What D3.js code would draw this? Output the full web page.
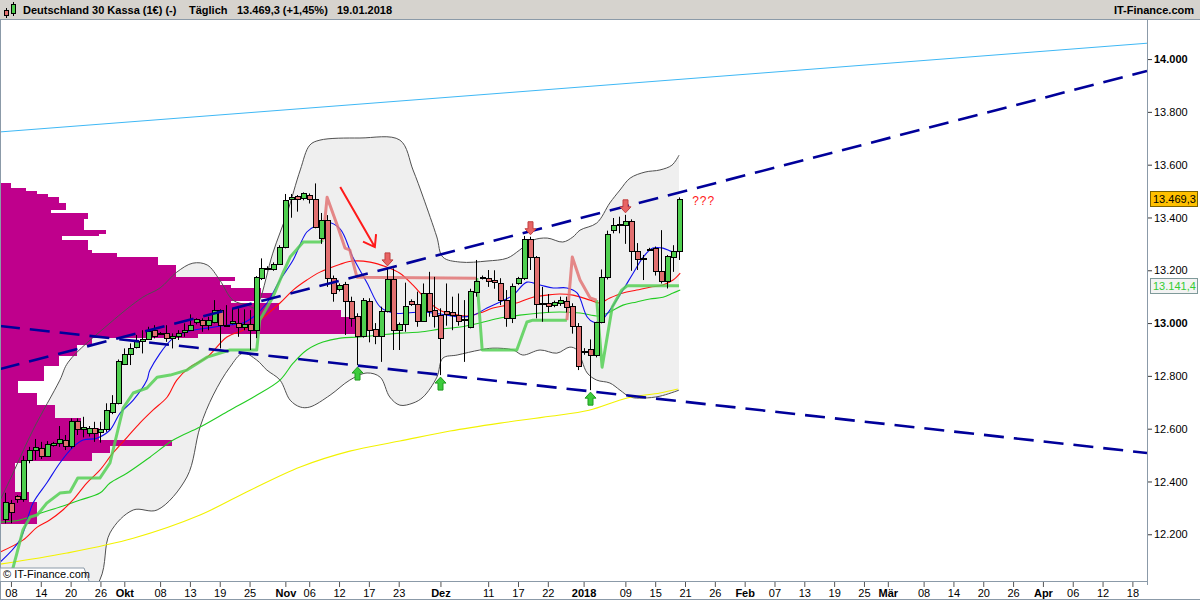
<!DOCTYPE html>
<html><head><meta charset="utf-8">
<script src="https://cdn.jsdelivr.net/npm/d3@7"></script>
<style>
html,body{margin:0;padding:0;background:#fff;}
svg{display:block;font-family:"Liberation Sans",Arial,sans-serif;}
</style></head><body>
<svg id="c" width="1200" height="600"></svg>
<script>
// ---------------- DATA ----------------
const opens = [12256,12317,12342,12333,12478,12519,12525,12496,12537,12544,
12557,12531,12626,12595,12580,12601,12586,12595,12660,12696,
12844,12881,12906,12929,12938,12971,12962,12961,12942,12948,
12963,12973,13004,13011,12991,13003,13049,12991,12999,12997,
12984,12995,12973,13169,13207,13203,13222,13285,13469,13478,
13470,13484,13469,13320,13390,13169,13128,13147,13083,13024,
12948,13083,12976,12948,13045,13165,12970,12995,13081,13071,
13005,13112,13049,13030,13045,13040,13030,13012,12982,13115,
13173,13169,13163,13150,13087,13018,13150,13169,13317,13249,
13073,13075,13068,13075,13081,13062,12986,12890,12900,12876,
13001,13173,13350,13372,13370,13386,13273,13246,13280,13283,
13197,13156,13249,13273];
const highs = [12357,12330,12348,12497,12531,12561,12550,12553,12550,12610,
12576,12639,12639,12645,12610,12626,12626,12696,12727,12862,
12904,12923,12955,12973,12986,12992,12966,12992,12961,12973,
12999,13033,13018,13018,13024,13087,13052,13068,13056,13056,
13052,13049,13178,13245,13215,13230,13295,13489,13489,13485,
13495,13491,13529,13417,13409,13180,13150,13156,13100,13037,
13095,13094,13000,13062,13209,13207,13002,13153,13090,13119,
13150,13194,13175,13056,13150,13100,13112,13087,13130,13239,
13180,13201,13200,13170,13125,13150,13175,13330,13327,13254,
13137,13110,13085,13100,13100,13075,13000,12905,12938,13005,
13203,13350,13398,13403,13410,13393,13303,13258,13285,13290,
13352,13258,13295,13476];
const lows = [12241,12242,12319,12323,12469,12481,12485,12494,12532,12531,
12519,12525,12576,12567,12570,12550,12547,12588,12655,12692,
12841,12841,12904,12885,12936,12942,12955,12929,12904,12936,
12948,12971,12995,12967,12973,12999,12904,12986,12995,12948,
12973,12898,12943,13163,13200,13198,13220,13283,13399,13422,
13465,13453,13359,13300,13137,13081,13120,12955,12986,12841,
12945,12927,12920,12853,13040,12898,12898,12967,13065,12986,
13005,13024,12983,12803,12990,12973,12990,12853,12980,13100,
13165,13137,13130,13068,12986,13000,13145,13163,13201,13018,
13005,13040,13060,13065,13040,12960,12822,12880,12746,12870,
12999,13165,13340,13340,13300,13198,13201,13163,13275,13180,
13150,13131,13194,13239];
const closes = [12321,12283,12332,12478,12516,12529,12494,12540,12544,12559,
12531,12626,12595,12605,12601,12583,12595,12667,12696,12856,
12881,12904,12929,12938,12967,12951,12960,12942,12951,12961,
12973,12992,13014,12990,13008,13047,12990,12989,13005,12984,
12996,12973,13173,13207,13205,13222,13285,13463,13476,13469,
13489,13469,13361,13390,13169,13112,13144,13083,13018,12948,
13087,12970,12948,13045,13165,12973,12995,13062,13071,13005,
13112,13043,13024,12942,13033,13027,13005,13010,13121,13159,
13171,13159,13153,13084,13018,13137,13169,13317,13249,13071,
13072,13064,13077,13084,13059,12986,12834,12894,12877,13001,
13173,13337,13371,13370,13386,13273,13241,13244,13279,13194,
13156,13252,13270,13469.3];

// Bollinger bands [barIndex, price]
const bandUpper = [[-0.8,12330],[0.8,12405],[4.7,12595],[9.2,12784],[10.6,12852],[17.6,13000],[23.1,13098],[26.0,13133],[28.8,13193],[31.5,13227],[33.9,13220],[36.0,13163],[38.2,13087],[40.6,13068],[41.9,13057],[42.7,13087],[44.9,13265],[47.3,13417],[49.5,13580],[51.1,13674],[52.8,13693],[59.5,13701],[66.2,13693],[68.4,13580],[70.1,13477],[72.4,13326],[73.4,13250],[76.3,13231],[80.8,13235],[84.2,13246],[86.3,13277],[88.5,13314],[90.9,13322],[93.5,13307],[95.2,13326],[96.4,13352],[99.2,13379],[101.4,13455],[103.1,13504],[104.8,13549],[107.3,13572],[109.8,13580],[111.8,13598],[113,13636]];
const bandLower = [[-0.8,11600],[8,11800],[15.9,12027],[17.6,12205],[21.5,12292],[25.5,12292],[30.5,12417],[32.7,12606],[34.9,12727],[37.7,12833],[39.9,12886],[42.2,12860],[43.9,12822],[46.1,12784],[47.8,12708],[49.5,12682],[51.1,12682],[54.5,12727],[57.8,12784],[60.7,12811],[62.9,12795],[64.5,12720],[66.2,12689],[68.4,12697],[70.1,12720],[72.4,12795],[73.4,12867],[75.8,12879],[79.6,12898],[81.8,12905],[85.2,12898],[86.8,12879],[89.7,12898],[92.5,12886],[94.7,12909],[95.9,12898],[97.6,12811],[99.2,12784],[101.4,12773],[103.1,12746],[104.8,12720],[107.0,12716],[109.8,12723],[113,12746]];

// moving averages [barIndex, price]
const maBlue = [[-0.8,12095],[2.5,12178],[4.7,12318],[7.0,12394],[9.2,12470],[11.4,12530],[13.1,12557],[15.4,12564],[17.6,12595],[19.3,12659],[21.5,12708],[23.8,12784],[24.3,12822],[28.2,12943],[31.5,12973],[33.9,12981],[37.2,12992],[39.9,13000],[41.6,13023],[43.9,13076],[46.1,13163],[48.3,13239],[50.6,13345],[52.3,13371],[54.0,13383],[56.2,13356],[58.3,13250],[60.7,13152],[62.9,13061],[65.0,13038],[67.4,13038],[69.6,13042],[71.8,13038],[74.1,13030],[76.3,13023],[78.5,13030],[80.8,13057],[83.0,13080],[85.2,13106],[87.5,13155],[89.7,13144],[91.9,13133],[94.2,13133],[95.9,13114],[97.6,13023],[98.6,13004],[99.7,13004],[101.4,13049],[103.6,13125],[105.3,13189],[107.0,13250],[108.6,13284],[110.3,13284],[112.0,13269],[113.2,13273]];
const maRed = [[-0.8,12133],[3.0,12178],[5.4,12227],[7.5,12254],[9.7,12292],[11.4,12330],[13.7,12394],[15.9,12443],[18.1,12508],[20.5,12568],[22.6,12621],[24.8,12670],[27.2,12720],[28.8,12784],[31.0,12833],[33.9,12871],[37.2,12947],[39.9,12973],[42.7,13011],[46.1,13076],[48.3,13125],[50.6,13163],[52.8,13193],[56.2,13223],[58.3,13235],[61.2,13231],[64.0,13212],[66.2,13189],[68.4,13144],[70.7,13087],[72.9,13049],[75.1,13034],[77.5,13027],[79.6,13038],[81.8,13057],[84.2,13068],[86.3,13080],[88.5,13098],[90.9,13106],[93.0,13110],[95.2,13106],[98.1,13087],[99.7,13076],[101.4,13095],[103.6,13114],[105.9,13125],[108.1,13136],[110.3,13144],[112.0,13163],[113.2,13189]];
const maGreen = [[-0.8,12246],[2.5,12254],[5.9,12280],[9.2,12303],[12.6,12330],[15.9,12356],[17.6,12394],[20.5,12432],[24.3,12492],[28.2,12557],[32.7,12606],[37.7,12670],[41.9,12723],[46.1,12784],[48.3,12848],[50.6,12898],[53.3,12928],[56.2,12943],[59.5,12947],[62.9,12955],[66.2,12962],[69.6,12966],[72.9,12977],[76.3,12985],[79.6,13000],[83.0,13019],[86.3,13030],[89.7,13038],[93.0,13042],[96.4,13038],[99.7,13027],[101.4,13042],[103.6,13068],[105.9,13080],[108.1,13091],[110.3,13098],[112.0,13114],[113.2,13125]];
const maYellow = [[-0.8,12087],[10.4,12129],[21.5,12185],[32.7,12273],[41.1,12367],[49.5,12455],[57.8,12515],[66.2,12553],[74.6,12591],[83.0,12621],[91.4,12647],[97.9,12670],[104.3,12716],[109.8,12735],[112.8,12750]];

// stop line (thick), green and red phases
const stopGreen = [
 [[0,11951],[0.8,12027],[2.0,12129],[3.0,12216],[4.2,12265],[5.4,12273],[7.0,12318],[9.2,12356],[10.9,12360],[12.2,12413],[15.9,12413],[17.6,12470],[19.8,12678],[21.5,12735],[23.8,12754],[25.5,12795],[27.7,12803],[30.5,12822],[33.9,12871],[37.7,12898],[42.2,12898],[42.7,13011],[44.9,13098],[46.6,13189],[47.8,13250],[50.0,13307],[52.8,13307],[53.3,13314]],
 [[79.1,13170],[80.0,12898],[85.8,12898],[87.5,13004],[88.5,13011],[94.2,13011]],
 [[99.2,13087],[100.1,12833],[101.8,13061],[103.4,13125],[104.3,13141.4],[113,13141.4]]
];
const stopRed = [
 [[53.3,13314],[54.0,13477],[55.8,13364],[57.0,13284],[57.8,13277],[59.0,13174],[79.1,13170]],
 [[94.2,13011],[95.1,13250],[96.4,13163],[98.1,13095],[99.2,13087]]
];

// volume profile: price edges (top->bottom) and relative volume per row
const profileEdges = [13530,13511,13500,13489,13477,13455,13432,13417,13398,13352,13341,13330,13314,13277,13265,13250,13220,13193,13174,13163,13144,13133,13114,13098,13087,13076,13049,13023,12962,12947,12917,12879,12841,12784,12735,12689,12640,12602,12557,12538,12511,12481,12470,12360,12322,12242];
const profileVolume = [3,7,10,13,16,18,14,24,23,29,27,17,24,25,32,43,48,48,64,60,63,71,74,70,63,76,93,100,54,25,21,16,12,5,10,15,22,27,47,30,25,7,4,8,10];

// trend lines [barIndex, price]
const trendLight = [[-0.84,13724],[191.45,14060]];
const trendUpper = [[-0.84,12826],[191.45,13955]];
const trendLower = [[-0.84,12989],[191.45,12508]];
const handArrow = [[56.2,13515],[62.0,13288]];

// signals
const downSignals = [64,88,104];
const upSignals = [59,73,98];

// axes
const priceTicks = [12200,12400,12600,12800,13000,13200,13400,13600,13800,14000];
const priceMinor = [12100,12300,12500,12700,12900,13100,13300,13500,13700,13900,14100];
const boldPrices = [13000,14000];
const dateTickIndex = [1,6,11,16,20,26,31,36,41,47,51,56,61,66,73,81,86,91,97,104,109,114,119,124,129,134,139,144,148,154,159,164,169,174,179,184,189];
const dateTickText = ["08","14","20","26","Okt","08","13","19","25","Nov","06","12","17","23","Dez","11","17","22","2018","09","15","21","26","Feb","07","13","19","25","Mär","08","14","20","26","Apr","06","12","18"];
const boldDateTicks = ["Okt","Nov","Dez","2018","Feb","Mär","Apr"];

const title = ["Deutschland 30 Kassa (1€) (-)","Täglich","13.469,3 (+1,45%)","19.01.2018"];
const lastPrice = 13469.3;
const stopPrice = 13141.4;

// ---------------- CHART ----------------
const svg = d3.select("#c");
const P = {l:0, r:1147, t:20, b:581};
const x = d3.scaleLinear().domain([-0.838,191.45]).range([P.l,P.r]);
const y = d3.scaleLinear().domain([12023,14148]).range([P.b,P.t]);
const fmtDE = v => d3.format(",")(v).replace(/,/g,".");
const fmtDE1 = v => d3.format(",.1f")(v).replace(/,/g,"#").replace(".",",").replace(/#/g,".");

svg.append("rect").attr("width",1200).attr("height",600).attr("fill","#fff");
svg.append("defs").append("clipPath").attr("id","plot").append("rect")
  .attr("x",P.l).attr("y",P.t).attr("width",P.r-P.l).attr("height",P.b-P.t);
const g = svg.append("g").attr("clip-path","url(#plot)");

const line = d3.line().x(d=>x(d[0])).y(d=>y(d[1]));
const smooth = d3.line().x(d=>x(d[0])).y(d=>y(d[1])).curve(d3.curveCatmullRom.alpha(0.5));

// band fill
g.append("path").attr("d", smooth(bandUpper)+"L"+smooth(bandLower.slice().reverse()).slice(1)+"Z")
  .attr("fill","#efefef").attr("stroke","none");

// volume profile
const vx = d3.scaleLinear().domain([0,100]).range([0,367]);
g.append("g").selectAll("rect").data(profileVolume).join("rect")
  .attr("x",P.l).attr("y",(d,i)=>y(profileEdges[i]))
  .attr("width",d=>vx(d))
  .attr("height",(d,i)=>y(profileEdges[i+1])-y(profileEdges[i])+0.5)
  .attr("fill","#bf008c").attr("shape-rendering","crispEdges");

// band lines
[bandUpper,bandLower].forEach(b=>g.append("path").attr("d",smooth(b))
  .attr("fill","none").attr("stroke","#505050").attr("stroke-width",1));

// light trend line
g.append("path").attr("d",line(trendLight)).attr("stroke","#3fb8f5").attr("stroke-width",1).attr("fill","none");

// MAs
[[maYellow,"#f2f200"],[maGreen,"#22cc22"],[maRed,"#ff1010"],[maBlue,"#1010ee"]].forEach(([d,c])=>
  g.append("path").attr("d",smooth(d)).attr("fill","none").attr("stroke",c).attr("stroke-width",1.1));

// stop lines
stopGreen.forEach(s=>g.append("path").attr("d",line(s)).attr("fill","none")
  .attr("stroke","#55d055").attr("stroke-opacity",0.85).attr("stroke-width",3).attr("stroke-linejoin","round"));
stopRed.forEach(s=>g.append("path").attr("d",line(s)).attr("fill","none")
  .attr("stroke","#e27474").attr("stroke-opacity",0.85).attr("stroke-width",3).attr("stroke-linejoin","round"));

// candles
const candles = opens.map((o,i)=>({i,o,h:highs[i],l:lows[i],c:closes[i]}));
const cg = g.append("g");
cg.selectAll("line.w").data(candles).join("line").attr("class","w")
  .attr("x1",d=>Math.round(x(d.i))+0.5).attr("x2",d=>Math.round(x(d.i))+0.5)
  .attr("y1",d=>y(d.h)).attr("y2",d=>y(d.l)).attr("stroke","#000").attr("stroke-width",1);
cg.selectAll("rect.b").data(candles).join("rect").attr("class","b")
  .attr("x",d=>Math.round(x(d.i))-2).attr("width",5)
  .attr("y",d=>y(Math.max(d.o,d.c)))
  .attr("height",d=>Math.max(1,Math.abs(y(d.o)-y(d.c))))
  .attr("fill",d=>Math.abs(y(d.o)-y(d.c))<1.5?"#000":(d.c>=d.o?"#4fcf4f":"#e27070"))
  .attr("stroke","#000").attr("stroke-width",1).attr("shape-rendering","crispEdges");

// trend dashed lines
[trendUpper,trendLower].forEach(t=>g.append("path").attr("d",line(t)).attr("fill","none")
  .attr("stroke","#00009a").attr("stroke-width",2.6).attr("stroke-dasharray","20,10"));

// hand arrow
{
  const [a,b] = handArrow;
  const x1=x(a[0]),y1=y(a[1]),x2=x(b[0]),y2=y(b[1]);
  const ang=Math.atan2(y1-y2,x1-x2);
  const L=13, sp=0.62;
  g.append("path").attr("d",`M${x1},${y1}L${x2},${y2}M${x2+L*Math.cos(ang-sp)},${y2+L*Math.sin(ang-sp)}L${x2},${y2}L${x2+L*Math.cos(ang+sp)},${y2+L*Math.sin(ang+sp)}`)
    .attr("fill","none").attr("stroke","#ff1a1a").attr("stroke-width",2);
}

// signal arrows
const downShape = "M0,0L-5.5,-6L-2.5,-6L-2.5,-13L2.5,-13L2.5,-6L5.5,-6Z";
const upShape = "M0,0L-5.5,6L-2.5,6L-2.5,13L2.5,13L2.5,6L5.5,6Z";
g.selectAll("path.dn").data(downSignals).join("path").attr("class","dn").attr("d",downShape)
  .attr("transform",i=>`translate(${Math.round(x(i))+0.5},${y(highs[i])-2})`)
  .attr("fill","#e86464").attr("stroke","#c04040").attr("stroke-width",1);
g.selectAll("path.up").data(upSignals).join("path").attr("class","up").attr("d",upShape)
  .attr("transform",i=>`translate(${Math.round(x(i))+0.5},${y(lows[i])+2})`)
  .attr("fill","#3ccc3c").attr("stroke","#1f9a1f").attr("stroke-width",1);

// ??? annotation
g.append("text").attr("x",x(115.2)).attr("y",y(13462)).attr("dy","0.35em")
  .attr("fill","#ff2020").attr("font-size",12).attr("letter-spacing",1).text("???");

// ---------- axes ----------
const ra = svg.append("g").attr("transform",`translate(${P.r},0)`);
ra.call(d3.axisRight(y).tickValues(priceMinor).tickSize(3).tickFormat(""));
ra.call(d3.axisRight(y).tickValues(priceTicks).tickSize(5).tickPadding(2).tickFormat(fmtDE));
ra.selectAll("path.domain").remove();
ra.selectAll("line").attr("stroke","#3a3a3a");
ra.selectAll("text").attr("font-size",11).attr("fill","#000").attr("font-family","Liberation Sans, Arial, sans-serif")
  .attr("font-weight",d=>boldPrices.includes(d)?"bold":"normal");
svg.append("line").attr("x1",P.r+0.5).attr("x2",P.r+0.5).attr("y1",P.t).attr("y2",P.b+4).attr("stroke","#8b9aa8");

function priceBox(v, txt, fill, stroke, color){
  const gy=y(v);
  const b=svg.append("g");
  b.append("rect").attr("x",P.r+3.5).attr("y",Math.round(gy)-7.5).attr("width",47).attr("height",15)
    .attr("fill",fill).attr("stroke",stroke);
  b.append("text").attr("x",P.r+6).attr("y",gy).attr("dy","0.35em").attr("font-size",11).attr("fill",color).text(txt);
}
priceBox(lastPrice, fmtDE1(lastPrice), "#ffc000", "#7a6200", "#000");
priceBox(stopPrice, fmtDE1(stopPrice), "#f3f3f3", "#7f9a9a", "#33cc33");

svg.append("line").attr("x1",0).attr("x2",P.r+1).attr("y1",P.b+0.5).attr("y2",P.b+0.5).attr("stroke","#8b9aa8");
const ba = svg.append("g").attr("transform",`translate(0,${P.b})`);
ba.call(d3.axisBottom(x).tickValues(dateTickIndex).tickSize(5).tickPadding(3)
   .tickFormat((d,i)=>dateTickText[i]));
ba.selectAll("path.domain").remove();
ba.selectAll("line").attr("stroke","#555").attr("transform","translate(0,1)");
ba.selectAll("text").attr("font-size",11).attr("fill","#000").attr("font-family","Liberation Sans, Arial, sans-serif")
  .attr("font-weight",(d,i)=>boldDateTicks.includes(dateTickText[i])?"bold":"normal");
svg.append("line").attr("x1",0).attr("x2",1200).attr("y1",599.5).attr("y2",599.5).attr("stroke","#8b9aa8");
svg.append("line").attr("x1",0.5).attr("x2",0.5).attr("y1",P.t).attr("y2",600).attr("stroke","#8b9aa8");

svg.append("path").attr("d",`M0,${P.b}L0,${P.b-13}L84,${P.b-13}L89,${P.b}`).attr("fill","#fff").attr("stroke","#8b9aa8");
svg.append("text").attr("x",3).attr("y",P.b-3).attr("font-size",11).attr("fill","#000").text("© IT-Finance.com");

const hd = svg.append("g");
hd.append("rect").attr("x",0).attr("y",0).attr("width",1200).attr("height",20).attr("fill","#d6d3ce");
hd.append("line").attr("x1",0).attr("x2",1200).attr("y1",19.5).attr("y2",19.5).attr("stroke","#8b9aa8");
hd.append("line").attr("x1",6.5).attr("x2",6.5).attr("y1",8).attr("y2",18).attr("stroke","#000");
hd.append("rect").attr("x",4.5).attr("y",10.5).attr("width",4).attr("height",5).attr("fill","#e27070").attr("stroke","#000");
hd.append("line").attr("x1",13.5).attr("x2",13.5).attr("y1",2).attr("y2",16).attr("stroke","#000");
hd.append("rect").attr("x",11.5).attr("y",4.5).attr("width",4).attr("height",9).attr("fill","#4fcf4f").attr("stroke","#000");
const tx=[23,189,237,337];
hd.selectAll("text.t").data(title).join("text").attr("class","t")
  .attr("x",(d,i)=>tx[i]).attr("y",14).attr("font-size",11).attr("font-weight","bold").attr("fill","#000").text(d=>d);
hd.append("text").attr("x",1194).attr("y",14).attr("text-anchor","end").attr("font-size",11)
  .attr("font-weight","bold").attr("fill","#000").text("IT-Finance.com");
</script>
</body></html>
